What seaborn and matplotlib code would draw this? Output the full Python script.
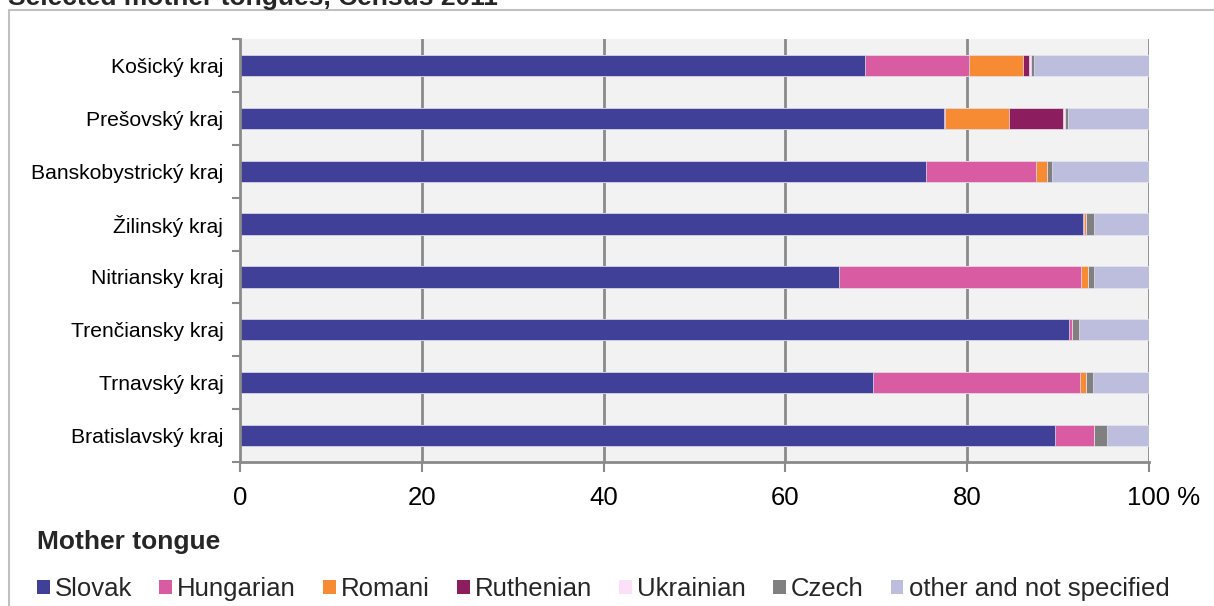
import numpy as np
import pandas as pd
import matplotlib
matplotlib.use("Agg")
import matplotlib.pyplot as plt
from matplotlib.lines import Line2D
from matplotlib.patches import Patch
from matplotlib.transforms import ScaledTranslation
import seaborn as sns

# Regions, listed top to bottom
regions = ["Košický kraj", "Prešovský kraj", "Banskobystrický kraj", "Žilinský kraj",
           "Nitriansky kraj", "Trenčiansky kraj", "Trnavský kraj", "Bratislavský kraj"]

# Share of population by mother tongue, %
slovak    = [68.8, 77.4, 75.5, 92.7, 65.9, 91.2, 69.6, 89.7]
hungarian = [11.4,  0.2, 12.1,  0.1, 26.6,  0.3, 22.8,  4.2]
romani    = [ 5.9,  7.0,  1.2,  0.3,  0.8,  0.0,  0.7,  0.0]
ruthenian = [ 0.7,  5.9,  0.0,  0.0,  0.0,  0.0,  0.0,  0.1]
ukrainian = [ 0.2,  0.3,  0.0,  0.0,  0.0,  0.0,  0.0,  0.0]
czech     = [ 0.4,  0.3,  0.5,  0.8,  0.6,  0.8,  0.7,  1.4]

series_names = ["Slovak", "Hungarian", "Romani", "Ruthenian", "Ukrainian", "Czech",
                "other and not specified"]
colors = ["#404099", "#D95CA2", "#F68B33", "#8C1E60", "#FCE0F8", "#808080", "#BDBDDD"]

known = np.array([slovak, hungarian, romani, ruthenian, ukrainian, czech])
other = 100 - known.sum(axis=0)
parts = np.vstack([known, other])
cum = np.cumsum(parts, axis=0)

W, H, DPI = 1214, 606, 100
sns.set_theme(style="white")
plt.rcParams["font.family"] = ["Liberation Sans", "DejaVu Sans"]

fig = plt.figure(figsize=(W / DPI, H / DPI), dpi=DPI)
ax = fig.add_axes([240 / W, 1 - 462 / H, (1149 - 240) / W, (462 - 39) / H])
ax.set_facecolor("#F2F2F2")

# Stacked bars: draw cumulative totals from the widest down
for i in range(len(series_names) - 1, -1, -1):
    df = pd.DataFrame({"region": regions, "value": cum[i]})
    sns.barplot(data=df, x="value", y="region", orient="h", color=colors[i],
                width=0.4, saturation=1, edgecolor="#E6E6F0", linewidth=0.5,
                ax=ax, zorder=3)

ax.set_xlim(0, 100)
ax.set_ylim(7.5, -0.5)
ax.set_xticks([0, 20, 40, 60, 80, 100])
ax.set_xticklabels(["0", "20", "40", "60", "80", "100 %"])
ax.set_xlabel("")
ax.set_ylabel("")

grid_c = "#8A8A8A"
ax.grid(False)
for v in [20, 40, 60, 80, 100]:
    ax.axvline(v, color=grid_c, lw=2, zorder=1)

for side in ["top", "right"]:
    ax.spines[side].set_visible(False)
for side in ["left", "bottom"]:
    ax.spines[side].set_color(grid_c)
    ax.spines[side].set_linewidth(2)
    ax.spines[side].set_zorder(4)

ax.tick_params(axis="x", bottom=True, length=7, width=1.5, color=grid_c,
               labelsize=18.5, pad=10, labelcolor="#000000")
ax.tick_params(axis="y", left=False, length=0, labelsize=15.2, pad=12,
               labelcolor="#000000")
ax.set_yticks(np.arange(-0.5, 8.0, 1.0), minor=True)
ax.tick_params(axis="y", which="minor", left=True, length=6, width=1.5, color=grid_c)

# keep the number "100" centred on its tick, with the unit trailing to the right
last = ax.get_xticklabels()[-1]
last.set_transform(last.get_transform() + ScaledTranslation(15 / DPI, 0, fig.dpi_scale_trans))

# Outer frame
frame_c = "#C0C0C0"
fig.add_artist(Line2D([9 / W, 9 / W], [0, 1 - 10 / H], color=frame_c, lw=1.5,
                      transform=fig.transFigure))
fig.add_artist(Line2D([9 / W, 1], [1 - 10 / H, 1 - 10 / H], color=frame_c, lw=1.5,
                      transform=fig.transFigure))

fig.text(8 / W, 1 - 5 / H, "Selected mother tongues, Census 2011", fontsize=19,
         fontweight="bold", ha="left", va="baseline")

fig.text(37 / W, 1 - 542 / H, "Mother tongue", fontsize=19, fontweight="bold",
         ha="left", va="center")

handles = [Patch(facecolor=c, edgecolor="none") for c in colors]
fig.legend(handles, series_names, loc="center left", bbox_to_anchor=(37 / W, 1 - 589 / H),
           ncol=7, frameon=False, fontsize=18.5, handlelength=0.5, handleheight=0.5,
           handletextpad=0.2, columnspacing=1.05, borderaxespad=0, borderpad=0)

fig.savefig("out.png", dpi=DPI)
